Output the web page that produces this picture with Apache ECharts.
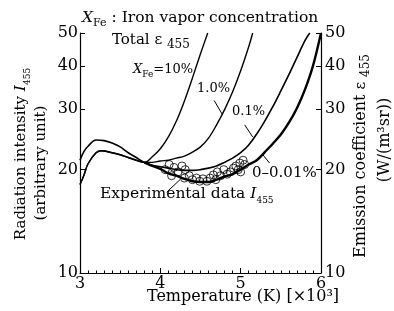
<!DOCTYPE html>
<html>
<head>
<meta charset="UTF-8">
<title>Radiation intensity I455</title>
<script src="https://cdn.jsdelivr.net/npm/echarts@6/dist/echarts.min.js"></script>
</head>
<body style="margin:0;background:#fff">
<div id="chart" style="width:394px;height:311px"></div>
<script>
var serif = "'DejaVu Serif','Liberation Serif',serif";

// left part: the two humps (low one is shared by 10% and 1.0%, high one by 0.1% and 0-0.01%)
var tempLowHump = [3.0, 3.05, 3.1, 3.2, 3.27, 3.4, 3.5, 3.6, 3.7, 3.8];
var lowHump = [18.1, 19.3, 20.8, 22.4, 22.7, 22.4, 22.1, 21.7, 21.3, 21.0];
var tempHighHump = [3.0, 3.05, 3.1, 3.2, 3.3, 3.4, 3.5, 3.6, 3.7, 3.8];
var highHump = [21.3, 22.6, 23.4, 24.4, 24.3, 23.9, 23.3, 22.4, 21.7, 21.0];

// right parts of each curve (x10^3 K, emission coefficient)
var tempA = [3.9, 4.0, 4.1, 4.2, 4.3, 4.4, 4.5, 4.59];
var epsA = [21.8, 23.0, 24.9, 27.7, 31.7, 37.0, 43.5, 50];
var tempB = [3.9, 4.0, 4.1, 4.2, 4.3, 4.4, 4.5, 4.6, 4.7, 4.8, 4.9, 5.0, 5.1, 5.15];
var epsB = [21.0, 21.2, 21.3, 21.6, 21.9, 22.5, 23.3, 24.7, 27.0, 29.9, 33.7, 38.8, 45.6, 50];
var tempC = [3.9, 4.0, 4.1, 4.2, 4.3, 4.4, 4.5, 4.6, 4.7, 4.8, 4.9, 5.0, 5.1, 5.2, 5.3, 5.4, 5.5, 5.6, 5.7, 5.8, 5.86];
var epsC = [20.6, 20.4, 20.2, 20.0, 19.9, 19.9, 20.0, 20.2, 20.5, 21.0, 21.6, 22.4, 23.6, 25.4, 27.7, 30.5, 33.9, 37.8, 42.4, 47.5, 50];
var tempD = [3.9, 4.0, 4.1, 4.2, 4.3, 4.4, 4.5, 4.6, 4.7, 4.8, 4.9, 5.0, 5.1, 5.2, 5.3, 5.4, 5.5, 5.6, 5.7, 5.8, 5.9, 6.0];
var epsD = [20.5, 20.1, 19.5, 19.2, 18.8, 18.5, 18.4, 18.4, 18.7, 19.1, 19.4, 20.0, 20.7, 21.3, 22.5, 23.8, 25.3, 27.4, 30.2, 34.2, 40.1, 50];

// experimental data I455
var expTemp = [4.06, 4.11, 4.17, 4.22, 4.14, 4.27, 4.31, 4.36, 4.30, 4.40, 4.45, 4.49, 4.53, 4.58, 4.62, 4.66, 4.71, 4.69, 4.75, 4.79, 4.83, 4.87, 4.91, 4.94, 4.97, 4.99, 5.03, 5.05, 5.00];
var expVal = [20.0, 20.7, 20.3, 19.7, 19.2, 20.5, 20.0, 19.2, 18.9, 18.7, 18.9, 18.5, 18.8, 18.5, 18.9, 19.3, 19.7, 18.7, 19.2, 20.0, 19.4, 19.7, 20.2, 20.5, 20.0, 20.9, 21.3, 20.7, 19.7];

var yTicks = [10, 20, 30, 40, 50];
var leaders = [
  [[4.245, 18.7], [4.08, 17.2]],
  [[4.67, 31.8], [4.77, 29.0]],
  [[5.05, 27.0], [5.15, 24.9]],
  [[5.27, 22.2], [5.36, 20.9]]
];

function lg(v) { return Math.log10(v); }
function pts(ts, vs) { return ts.map(function (t, i) { return [t, lg(vs[i])]; }); }

var chart = echarts.init(document.getElementById('chart'));

// the thick 0-0.01% line starts where the curves cross, the hump under it is drawn thin by 0.1%
var curves = [
  { d: pts(tempLowHump, lowHump).concat(pts(tempA, epsA)), w: 1.4 },
  { d: pts(tempLowHump, lowHump).concat(pts(tempB, epsB)), w: 1.4 },
  { d: pts(tempHighHump, highHump).concat(pts(tempC, epsC)), w: 1.6 },
  { d: pts(tempHighHump.slice(-1), highHump.slice(-1)).concat(pts(tempD, epsD)), w: 2.4 }
];

var series = curves.map(function (c) {
  return {
    type: 'line', data: c.d, smooth: 0.35, showSymbol: false, symbol: 'none',
    lineStyle: { color: '#000', width: c.w }, silent: true
  };
});
series.push({
  type: 'scatter', data: pts(expTemp, expVal), symbol: 'circle', symbolSize: 8,
  itemStyle: { color: 'rgba(255,255,255,0)', borderColor: '#000', borderWidth: 1 }, z: 3
});
leaders.forEach(function (l) {
  series.push({
    type: 'line', data: [[l[0][0], lg(l[0][1])], [l[1][0], lg(l[1][1])]],
    showSymbol: false, symbol: 'none', lineStyle: { color: '#000', width: 1 }
  });
});

var yAxisBase = function (pos) {
  return {
    type: 'value', position: pos, min: 1, max: lg(50),
    axisLine: { show: true, lineStyle: { color: '#000', width: 1.2 } },
    axisTick: { show: true, inside: true, length: 5, customValues: yTicks.map(lg), lineStyle: { color: '#000' } },
    axisLabel: {
      customValues: yTicks.map(lg), color: '#000', fontSize: 16, fontFamily: serif,
      margin: pos === 'left' ? 2 : 4,
      formatter: function (v) { return String(Math.round(Math.pow(10, v))); }
    },
    splitLine: { show: false }
  };
};

var rich = {
  n: { fontSize: 16, fontFamily: serif, fill: '#000', lineHeight: 22 },
  t: { fontSize: 15.5, fontFamily: serif, fill: '#000', lineHeight: 22 },
  ti: { fontSize: 15.5, fontFamily: serif, fontStyle: 'italic', fill: '#000', lineHeight: 22 },
  l: { fontSize: 15, fontFamily: serif, fill: '#000', lineHeight: 22 },
  lx: { fontSize: 15.5, fontFamily: serif, fill: '#000', lineHeight: 22 },
  li: { fontSize: 15.5, fontFamily: serif, fontStyle: 'italic', fill: '#000', lineHeight: 22 },
  s: { fontSize: 11, fontFamily: serif, fill: '#000', verticalAlign: 'bottom', lineHeight: 22 },
  m: { fontSize: 13, fontFamily: serif, fill: '#000', lineHeight: 18 },
  mi: { fontSize: 13, fontFamily: serif, fontStyle: 'italic', fill: '#000', lineHeight: 18 },
  ms: { fontSize: 9, fontFamily: serif, fill: '#000', verticalAlign: 'bottom', lineHeight: 18 },
  e: { fontSize: 15, fontFamily: serif, fill: '#000', lineHeight: 22 },
  es: { fontSize: 12, fontFamily: serif, fill: '#000', verticalAlign: 'bottom', lineHeight: 22 }
};

function txt(x, y, text, align, rot) {
  return {
    type: 'text', x: x, y: y, rotation: rot || 0, silent: true,
    style: { text: text, rich: rich, align: align || 'left', verticalAlign: 'middle' }
  };
}

chart.setOption({
  animation: false,
  backgroundColor: '#fff',
  grid: { left: 80, right: 73, top: 33, bottom: 38 },
  xAxis: {
    type: 'value', min: 3, max: 6, interval: 1,
    axisLine: { lineStyle: { color: '#000', width: 1.2 } },
    axisTick: { inside: true, length: 5, lineStyle: { color: '#000' } },
    minorTick: { show: true, splitNumber: 10, length: 2.5, lineStyle: { color: '#000' } },
    axisLabel: { color: '#000', fontSize: 16, fontFamily: serif, margin: 3 },
    splitLine: { show: false }
  },
  yAxis: [yAxisBase('left'), yAxisBase('right')],
  series: series,
  graphic: [
    txt(82, 18, '{ti|X}{s|Fe}{t| : Iron vapor concentration}'),
    txt(112, 40, '{l|Total }{e|ε }{es|455}'),
    txt(133, 70, '{mi|X}{ms|Fe}{m|=10%}'),
    txt(197, 89, '{m|1.0%}'),
    txt(232, 112, '{m|0.1%}'),
    txt(252, 173, '{e|0–0.01%}'),
    txt(100, 194, '{lx|Experimental data }{li|I}{ms|455}'),
    txt(243, 297, '{n|Temperature (K) [×10³]}', 'center'),
    txt(21, 154, '{l|Radiation intensity }{li|I}{ms|455}', 'center', Math.PI / 2),
    txt(41, 163, '{l|(arbitrary unit)}', 'center', Math.PI / 2),
    txt(361, 156, '{n|Emission coefficient }{e|ε }{es|455}', 'center', Math.PI / 2),
    txt(385, 140, '{n|(W/(m³sr))}', 'center', Math.PI / 2)
  ]
});
</script>
</body>
</html>
